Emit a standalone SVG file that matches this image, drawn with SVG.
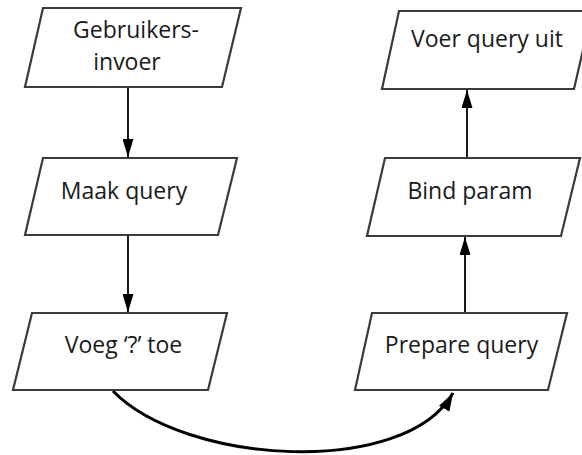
<svg xmlns="http://www.w3.org/2000/svg" width="582" height="455" viewBox="0 0 582 455">
  <defs>
    <marker id="arr" viewBox="0 0 18 11" refX="18" refY="5.5" markerWidth="18" markerHeight="11" markerUnits="userSpaceOnUse" orient="auto">
      <path d="M0,0 L18,5.5 L0,11 Z" fill="#000"/>
    </marker>
    <marker id="arrc" viewBox="0 0 18 12" refX="18" refY="6" markerWidth="18" markerHeight="12" markerUnits="userSpaceOnUse" orient="auto">
      <path d="M0,0 L18,6 L0,12 Z" fill="#000"/>
    </marker>
  </defs>
  <style>
    .box { fill: #ffffff; stroke: #3a3a3a; stroke-width: 2.2; stroke-linejoin: miter; }
    .lbl { font-family: "Open Sans", "Liberation Sans", sans-serif; font-size: 23px; fill: #1a1a1a; text-anchor: middle; }
    .conn { fill: none; stroke: #000; stroke-width: 1.8; }
    .curve { fill: none; stroke: #000; stroke-width: 3; }
  </style>
  <rect width="582" height="455" fill="#ffffff"/>

  <g id="connectors">
    <line class="conn" x1="128" y1="88" x2="128" y2="157" marker-end="url(#arr)"/>
    <line class="conn" x1="128" y1="236" x2="128" y2="312" marker-end="url(#arr)"/>
    <line class="conn" x1="465" y1="312" x2="465" y2="237" marker-end="url(#arr)"/>
    <line class="conn" x1="467" y1="157" x2="467" y2="90" marker-end="url(#arr)"/>
    <path class="curve" d="M113,391 C185,465 405,478 453,393" marker-end="url(#arrc)"/>
  </g>

  <g id="node-gebruikersinvoer">
    <polygon class="box" points="43,8 241,8 222,87 25,87"/>
    <text class="lbl" x="136" y="38">Gebruikers-</text>
    <text class="lbl" x="127" y="70">invoer</text>
  </g>
  <g id="node-maak-query">
    <polygon class="box" points="43,158 237,158 218,235 25,235"/>
    <text class="lbl" x="124" y="199">Maak query</text>
  </g>
  <g id="node-voeg-toe">
    <polygon class="box" points="32,313 227,313 208,390 13,390"/>
    <text class="lbl" x="123.5" y="353">Voeg ‘?’ toe</text>
  </g>
  <g id="node-prepare-query">
    <polygon class="box" points="372,313 567,313 548,390 355,390"/>
    <text class="lbl" x="461.5" y="353">Prepare query</text>
  </g>
  <g id="node-bind-param">
    <polygon class="box" points="385,158 580,158 561,236 367,236"/>
    <text class="lbl" x="470" y="199">Bind param</text>
  </g>
  <g id="node-voer-query-uit">
    <polygon class="box" points="399,11 592,11 574,89 382,89"/>
    <text class="lbl" x="487" y="47">Voer query uit</text>
  </g>
</svg>
